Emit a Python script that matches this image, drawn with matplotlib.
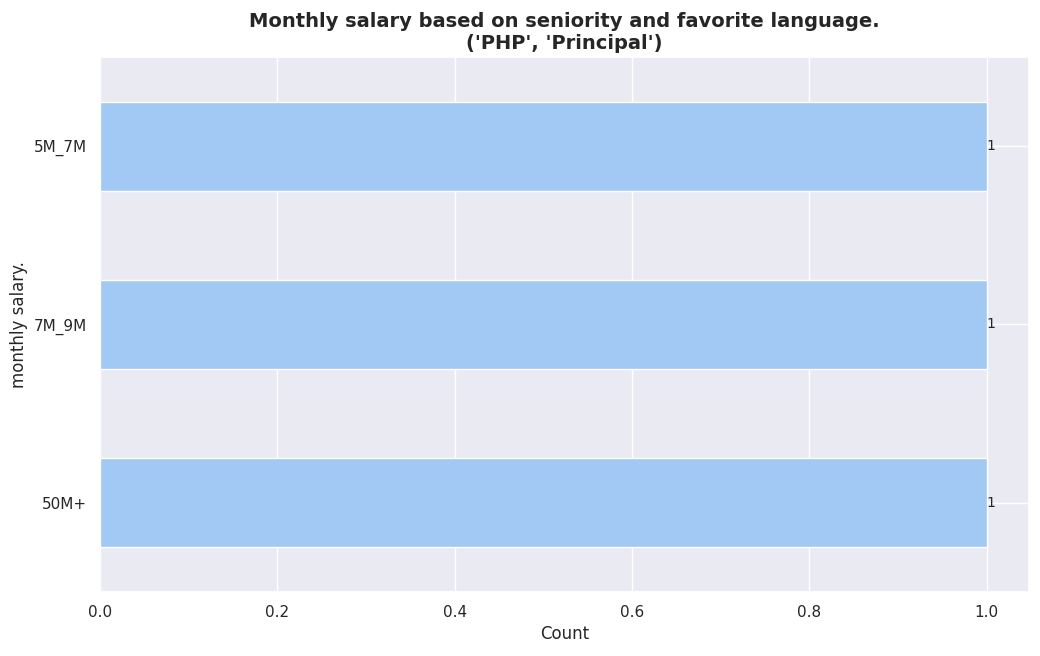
import matplotlib

matplotlib.use("Agg")
import matplotlib.pyplot as plt
import seaborn as sns

# Salary buckets, bottom to top as drawn
salary_ranges = ["50M+", "7M_9M", "5M_7M"]
counts = [1, 1, 1]

sns.set_theme(style="darkgrid")

fig, ax = plt.subplots(figsize=(10.4, 6.56), dpi=100)
bars = ax.barh(salary_ranges, counts, height=0.5, color="#a1c9f4")
ax.bar_label(bars, fontsize=10)

ax.set_xlim(0, 1.047)
ax.set_ylim(-0.5, 2.5)
ax.set_xlabel("Count")
ax.set_ylabel("monthly salary.")
ax.set_title("Monthly salary based on seniority and favorite language.\n('PHP', 'Principal')",
             fontsize=14, fontweight="bold")

fig.subplots_adjust(left=0.096, right=0.989, top=0.913, bottom=0.098)
fig.savefig("out.png", dpi=100)
plt.close(fig)
